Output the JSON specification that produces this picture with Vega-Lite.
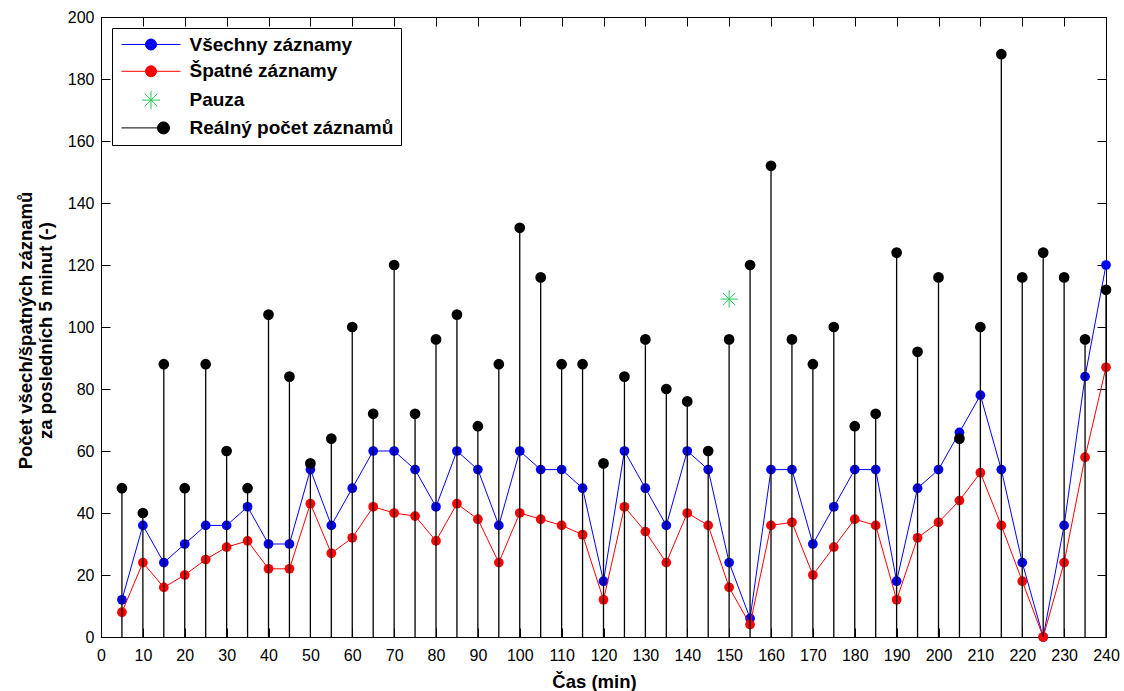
{
  "$schema": "https://vega.github.io/schema/vega-lite/v6.json",
  "width": 1005,
  "height": 620,
  "autosize": "none",
  "padding": {"left": 101, "top": 17, "right": 18, "bottom": 54},
  "background": "white",
  "config": {
    "view": {"stroke": null},
    "font": "Liberation Sans",
    "axis": {
      "grid": false,
      "domainColor": "black",
      "domainWidth": 1,
      "tickColor": "black",
      "tickWidth": 1,
      "tickSize": -9,
      "labelColor": "black",
      "labelFont": "Liberation Sans",
      "labelFontSize": 16,
      "labelFlush": false,
      "labelOverlap": false,
      "titleColor": "black",
      "titleFont": "Liberation Sans",
      "titleFontSize": 18.5,
      "titleFontWeight": "bold"
    }
  },
  "datasets": {
    "main": [
      {"t": 5, "all": 12, "bad": 8, "real": 48},
      {"t": 10, "all": 36, "bad": 24, "real": 40},
      {"t": 15, "all": 24, "bad": 16, "real": 88},
      {"t": 20, "all": 30, "bad": 20, "real": 48},
      {"t": 25, "all": 36, "bad": 25, "real": 88},
      {"t": 30, "all": 36, "bad": 29, "real": 60},
      {"t": 35, "all": 42, "bad": 31, "real": 48},
      {"t": 40, "all": 30, "bad": 22, "real": 104},
      {"t": 45, "all": 30, "bad": 22, "real": 84},
      {"t": 50, "all": 54, "bad": 43, "real": 56},
      {"t": 55, "all": 36, "bad": 27, "real": 64},
      {"t": 60, "all": 48, "bad": 32, "real": 100},
      {"t": 65, "all": 60, "bad": 42, "real": 72},
      {"t": 70, "all": 60, "bad": 40, "real": 120},
      {"t": 75, "all": 54, "bad": 39, "real": 72},
      {"t": 80, "all": 42, "bad": 31, "real": 96},
      {"t": 85, "all": 60, "bad": 43, "real": 104},
      {"t": 90, "all": 54, "bad": 38, "real": 68},
      {"t": 95, "all": 36, "bad": 24, "real": 88},
      {"t": 100, "all": 60, "bad": 40, "real": 132},
      {"t": 105, "all": 54, "bad": 38, "real": 116},
      {"t": 110, "all": 54, "bad": 36, "real": 88},
      {"t": 115, "all": 48, "bad": 33, "real": 88},
      {"t": 120, "all": 18, "bad": 12, "real": 56},
      {"t": 125, "all": 60, "bad": 42, "real": 84},
      {"t": 130, "all": 48, "bad": 34, "real": 96},
      {"t": 135, "all": 36, "bad": 24, "real": 80},
      {"t": 140, "all": 60, "bad": 40, "real": 76},
      {"t": 145, "all": 54, "bad": 36, "real": 60},
      {"t": 150, "all": 24, "bad": 16, "real": 96},
      {"t": 155, "all": 6, "bad": 4, "real": 120},
      {"t": 160, "all": 54, "bad": 36, "real": 152},
      {"t": 165, "all": 54, "bad": 37, "real": 96},
      {"t": 170, "all": 30, "bad": 20, "real": 88},
      {"t": 175, "all": 42, "bad": 29, "real": 100},
      {"t": 180, "all": 54, "bad": 38, "real": 68},
      {"t": 185, "all": 54, "bad": 36, "real": 72},
      {"t": 190, "all": 18, "bad": 12, "real": 124},
      {"t": 195, "all": 48, "bad": 32, "real": 92},
      {"t": 200, "all": 54, "bad": 37, "real": 116},
      {"t": 205, "all": 66, "bad": 44, "real": 64},
      {"t": 210, "all": 78, "bad": 53, "real": 100},
      {"t": 215, "all": 54, "bad": 36, "real": 188},
      {"t": 220, "all": 24, "bad": 18, "real": 116},
      {"t": 225, "all": 0, "bad": 0, "real": 124},
      {"t": 230, "all": 36, "bad": 24, "real": 116},
      {"t": 235, "all": 84, "bad": 58, "real": 96},
      {"t": 240, "all": 120, "bad": 87, "real": 112}
    ],
    "pauza": [
      {"t": 150, "value": 109}
    ]
  },
  "data": {"name": "main"},
  "layer": [
    {
      "mark": {"type": "line", "strokeWidth": 1, "clip": false},
      "encoding": {
        "x": {
          "field": "t", "type": "quantitative",
          "scale": {"domain": [0, 240], "nice": false, "zero": false},
          "axis": {
            "orient": "bottom",
            "values": [0,10,20,30,40,50,60,70,80,90,100,110,120,130,140,150,160,170,180,190,200,210,220,230,240],
            "labelPadding": 19,
            "title": "Čas (min)",
            "titleX": 493,
            "titleY": 50,
            "titleBaseline": "alphabetic",
            "titleAlign": "center"
          }
        },
        "y": {
          "field": "all", "type": "quantitative",
          "scale": {"domain": [0, 200], "nice": false},
          "axis": {
            "orient": "left",
            "values": [0,20,40,60,80,100,120,140,160,180,200],
            "labelPadding": 16,
            "title": ["Počet všech/špatných záznamů", "za posledních 5 minut (-)"],
            "titleAngle": -90,
            "titleX": -70,
            "titleY": 313,
            "titleBaseline": "alphabetic",
            "titleAlign": "center",
            "titleLineHeight": 20
          }
        },
        "color": {
          "datum": "Všechny záznamy",
          "type": "nominal",
          "scale": {
            "domain": ["Všechny záznamy", "Špatné záznamy", "Pauza", "Reálný počet záznamů"],
            "range": ["#0000ff", "#ff0000", "#22cc55", "#000000"]
          },
          "legend": {
            "orient": "top-left",
            "offset": 11,
            "title": null,
            "strokeColor": "black",
            "fillColor": "white",
            "padding": 7,
            "cornerRadius": 0,
            "labelFont": "Liberation Sans",
            "labelFontSize": 19,
            "labelFontWeight": "bold",
            "labelColor": "black",
            "labelLimit": 400,
            "symbolSize": 100,
            "symbolOffset": 22.5,
            "labelOffset": 29,
            "rowPadding": 6.8,
            "symbolStrokeWidth": 1,
            "encode": {
              "symbols": {
                "update": {
                  "shape": [
                    {"test": "datum.value === 'Pauza'", "value": "M-1.8,0L1.8,0M0,-1.8L0,1.8M-1.27,-1.27L1.27,1.27M-1.27,1.27L1.27,-1.27"},
                    {"test": "datum.value === 'Reálný počet záznamů'", "value": "M-5.9,0L2.5,0M3.7,0A1.2,1.2,0,1,1,1.3,0A1.2,1.2,0,1,1,3.7,0Z"},
                    {"value": "M-5.9,0L5.9,0M1.1,0A1.1,1.1,0,1,1,-1.1,0A1.1,1.1,0,1,1,1.1,0Z"}
                  ],
                  "fill": {"scale": "color", "field": "value"},
                  "stroke": {"scale": "color", "field": "value"},
                  "strokeWidth": {"value": 1},
                  "opacity": {"value": 1}
                }
              }
            }
          }
        }
      }
    },
    {
      "mark": {"type": "point", "filled": true, "size": 95, "color": "#0000ff", "opacity": 1, "clip": false},
      "encoding": {
        "x": {"field": "t", "type": "quantitative", "axis": null},
        "y": {"field": "all", "type": "quantitative", "axis": null}
      }
    },
    {
      "mark": {"type": "line", "strokeWidth": 1, "color": "#ff0000", "clip": false},
      "encoding": {
        "x": {"field": "t", "type": "quantitative", "axis": null},
        "y": {"field": "bad", "type": "quantitative", "axis": null}
      }
    },
    {
      "mark": {"type": "point", "filled": true, "size": 95, "color": "#ff0000", "opacity": 1, "clip": false},
      "encoding": {
        "x": {"field": "t", "type": "quantitative", "axis": null},
        "y": {"field": "bad", "type": "quantitative", "axis": null}
      }
    },
    {
      "data": {"name": "pauza"},
      "mark": {"type": "point", "filled": false, "size": 300, "color": "#22cc55", "strokeWidth": 1, "opacity": 1, "clip": false,
               "shape": "M-1,0L1,0M0,-1L0,1M-0.7,-0.7L0.7,0.7M-0.7,0.7L0.7,-0.7"},
      "encoding": {
        "x": {"field": "t", "type": "quantitative", "axis": null},
        "y": {"field": "value", "type": "quantitative", "axis": null}
      }
    },
    {
      "mark": {"type": "rule", "color": "black", "strokeWidth": 1.3, "clip": false},
      "encoding": {
        "x": {
          "field": "t", "type": "quantitative",
          "axis": {
            "orient": "top",
            "values": [0,10,20,30,40,50,60,70,80,90,100,110,120,130,140,150,160,170,180,190,200,210,220,230,240],
            "labels": false,
            "title": null
          }
        },
        "y": {
          "field": "real", "type": "quantitative",
          "axis": {
            "orient": "right",
            "values": [0,20,40,60,80,100,120,140,160,180,200],
            "labels": false,
            "title": null
          }
        },
        "y2": {"datum": 0}
      }
    },
    {
      "mark": {"type": "point", "filled": true, "size": 115, "color": "#000000", "opacity": 1, "clip": false},
      "encoding": {
        "x": {"field": "t", "type": "quantitative", "axis": null},
        "y": {"field": "real", "type": "quantitative", "axis": null}
      }
    }
  ],
  "resolve": {"axis": {"x": "independent", "y": "independent"}}
}
